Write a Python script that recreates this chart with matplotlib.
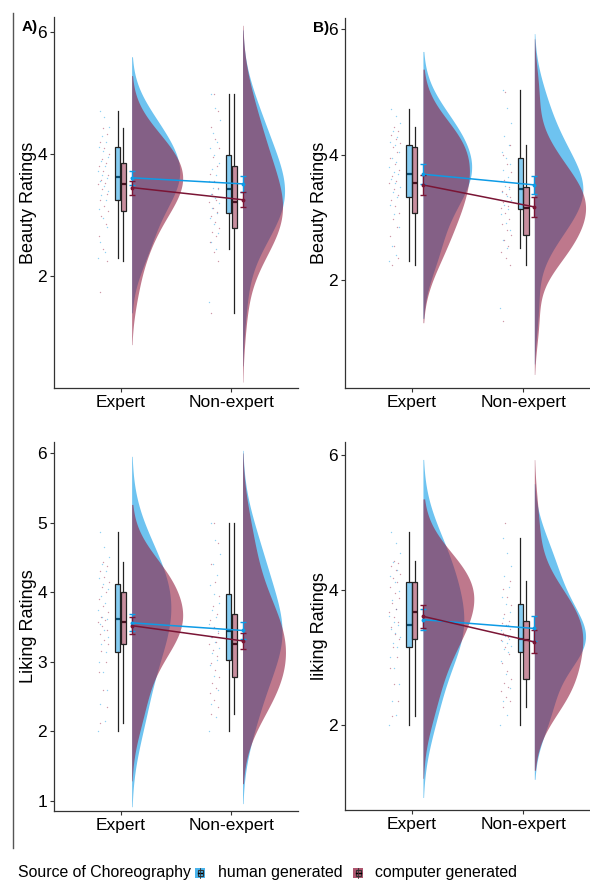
import numpy as np
import matplotlib
matplotlib.use("Agg")
import matplotlib.pyplot as plt
from matplotlib.colors import to_rgba
from matplotlib.lines import Line2D
from matplotlib.patches import Rectangle

plt.rcParams['font.family'] = ['Liberation Sans', 'DejaVu Sans']

# ---------------------------------------------------------------------------
# data
# ---------------------------------------------------------------------------
groups = ['Expert', 'Non-expert']
sources = ['human generated', 'computer generated']
panel_tags = ['A)', 'B)', '', '']
y_titles = ['Beauty Ratings', 'Beauty Ratings', 'Liking Ratings', 'liking Ratings']
y_ticks = [[2, 4, 6], [2, 4, 6], [1, 2, 3, 4, 5, 6], [2, 4, 6]]
y_lims = [(0.16, 6.25), (0.29, 6.17), (0.86, 6.16), (0.74, 6.19)]

# individual ratings (dots) per panel: expert-human, expert-computer, nonexp-human, nonexp-computer
A_exp_h = [2.29, 2.40, 2.55, 2.80, 2.95, 3.10, 3.25, 3.32, 3.40, 3.48, 3.55, 3.60, 3.65, 3.72, 3.80, 3.88, 3.95, 4.05, 4.12, 4.20, 4.30, 4.45, 4.60, 4.70]
A_exp_c = [1.74, 2.25, 2.45, 2.65, 2.85, 2.98, 3.07, 3.15, 3.25, 3.35, 3.42, 3.50, 3.52, 3.58, 3.65, 3.72, 3.80, 3.86, 3.92, 4.00, 4.10, 4.20, 4.32, 4.42]
A_non_h = [1.58, 2.44, 2.55, 2.70, 2.85, 2.95, 3.03, 3.12, 3.20, 3.28, 3.35, 3.43, 3.45, 3.55, 3.65, 3.75, 3.85, 3.99, 4.10, 4.20, 4.35, 4.55, 4.75, 4.98]
A_non_c = [1.39, 2.25, 2.40, 2.55, 2.65, 2.72, 2.78, 2.88, 2.98, 3.05, 3.12, 3.21, 3.25, 3.35, 3.45, 3.55, 3.68, 3.81, 3.95, 4.10, 4.25, 4.45, 4.70, 4.98]

B_exp_h = [2.31, 2.40, 2.55, 2.85, 3.05, 3.20, 3.32, 3.40, 3.48, 3.55, 3.62, 3.70, 3.72, 3.80, 3.88, 3.95, 4.05, 4.15, 4.20, 4.28, 4.38, 4.50, 4.62, 4.73]
B_exp_c = [2.25, 2.35, 2.55, 2.70, 2.85, 2.98, 3.07, 3.18, 3.28, 3.36, 3.45, 3.55, 3.58, 3.66, 3.75, 3.85, 3.95, 4.05, 4.12, 4.18, 4.25, 4.32, 4.38, 4.44]
B_non_h = [1.57, 2.52, 2.65, 2.80, 2.92, 3.05, 3.14, 3.20, 3.28, 3.35, 3.40, 3.46, 3.50, 3.58, 3.65, 3.75, 3.85, 3.95, 4.05, 4.15, 4.30, 4.50, 4.75, 5.03]
B_non_c = [1.35, 2.25, 2.35, 2.45, 2.55, 2.65, 2.72, 2.80, 2.90, 2.98, 3.08, 3.16, 3.18, 3.25, 3.32, 3.38, 3.42, 3.48, 3.60, 3.72, 3.85, 4.00, 4.16, 5.00]

C_exp_h = [2.00, 2.15, 2.40, 2.60, 2.85, 3.00, 3.14, 3.25, 3.35, 3.45, 3.55, 3.62, 3.65, 3.75, 3.85, 3.95, 4.05, 4.12, 4.20, 4.30, 4.40, 4.50, 4.65, 4.87]
C_exp_c = [2.12, 2.35, 2.60, 2.85, 3.00, 3.15, 3.25, 3.32, 3.40, 3.45, 3.52, 3.57, 3.60, 3.65, 3.72, 3.80, 3.90, 4.00, 4.08, 4.15, 4.22, 4.30, 4.38, 4.43]
C_non_h = [2.00, 2.20, 2.40, 2.60, 2.80, 2.95, 3.03, 3.12, 3.20, 3.28, 3.36, 3.44, 3.48, 3.55, 3.65, 3.75, 3.85, 3.97, 4.10, 4.25, 4.40, 4.55, 4.75, 5.00]
C_non_c = [2.25, 2.35, 2.45, 2.55, 2.62, 2.70, 2.78, 2.88, 2.98, 3.08, 3.17, 3.25, 3.28, 3.35, 3.42, 3.50, 3.60, 3.69, 3.80, 3.95, 4.15, 4.40, 4.70, 5.00]

D_exp_h = [2.00, 2.15, 2.35, 2.60, 2.85, 3.00, 3.15, 3.22, 3.30, 3.36, 3.42, 3.48, 3.52, 3.62, 3.72, 3.85, 3.98, 4.12, 4.20, 4.30, 4.42, 4.55, 4.70, 4.86]
D_exp_c = [2.13, 2.35, 2.60, 2.85, 3.00, 3.15, 3.27, 3.35, 3.45, 3.52, 3.60, 3.68, 3.72, 3.80, 3.88, 3.95, 4.05, 4.12, 4.18, 4.24, 4.30, 4.35, 4.40, 4.43]
D_non_h = [2.00, 2.15, 2.35, 2.55, 2.75, 2.95, 3.08, 3.12, 3.17, 3.21, 3.25, 3.28, 3.32, 3.40, 3.48, 3.58, 3.68, 3.79, 3.90, 4.05, 4.20, 4.35, 4.55, 4.77]
D_non_c = [2.26, 2.35, 2.42, 2.50, 2.56, 2.62, 2.68, 2.80, 2.92, 3.05, 3.15, 3.26, 3.30, 3.36, 3.42, 3.48, 3.51, 3.54, 3.65, 3.78, 3.90, 4.02, 4.14, 5.00]

ratings = [[A_exp_h, A_exp_c, A_non_h, A_non_c],
           [B_exp_h, B_exp_c, B_non_h, B_non_c],
           [C_exp_h, C_exp_c, C_non_h, C_non_c],
           [D_exp_h, D_exp_c, D_non_h, D_non_c]]

# box stats [whisker low, q1, median, q3, whisker high]
boxes = [[[2.29, 3.25, 3.63, 4.12, 4.70], [2.25, 3.07, 3.50, 3.86, 4.42],
          [2.44, 3.03, 3.43, 3.99, 4.98], [1.39, 2.78, 3.21, 3.81, 4.98]],
         [[2.31, 3.32, 3.70, 4.15, 4.73], [2.25, 3.07, 3.55, 4.12, 4.44],
          [2.52, 3.14, 3.46, 3.95, 5.03], [2.25, 2.72, 3.16, 3.48, 4.16]],
         [[2.00, 3.14, 3.62, 4.12, 4.87], [2.12, 3.25, 3.57, 4.00, 4.43],
          [2.00, 3.03, 3.44, 3.97, 5.00], [2.25, 2.78, 3.25, 3.69, 5.00]],
         [[2.00, 3.15, 3.48, 4.12, 4.86], [2.13, 3.27, 3.68, 4.12, 4.43],
          [2.00, 3.08, 3.28, 3.79, 4.77], [2.26, 2.68, 3.26, 3.54, 4.14]]]

# means and standard errors: [expert, non-expert]
means_h = [[3.61, 3.51], [3.69, 3.52], [3.56, 3.45], [3.56, 3.43]]
means_c = [[3.45, 3.25], [3.52, 3.17], [3.52, 3.30], [3.61, 3.23]]
se_h = [[0.115, 0.135], [0.16, 0.145], [0.12, 0.12], [0.16, 0.18]]
se_c = [[0.115, 0.12], [0.155, 0.16], [0.12, 0.12], [0.17, 0.17]]

col_h = '#0D9BE6'
col_c = '#931E3F'
col_c_line = '#7A1535'

# ---------------------------------------------------------------------------
def nrd0(v):
    v = np.asarray(v)
    sd = np.std(v, ddof=1)
    iqr = np.percentile(v, 75) - np.percentile(v, 25)
    return 0.9 * min(sd, iqr / 1.34) * len(v) ** -0.2


def kde(v, adjust=1.4, cut=2.1):
    v = np.asarray(v)
    bw = nrd0(v) * adjust
    g = np.linspace(v.min() - cut * bw, v.max() + cut * bw, 400)
    d = np.exp(-0.5 * ((g[:, None] - v[None, :]) / bw) ** 2).sum(axis=1)
    d = d / (len(v) * bw * np.sqrt(2 * np.pi))
    return g, d


fig = plt.figure(figsize=(5.9, 8.85), dpi=100)

W, H = 590.0, 885.0
# axes rectangles in pixels: left, top, right, bottom
rects = [(54, 16.75, 298, 388.2), (345, 18.3, 590, 388),
         (54, 441.9, 298, 810.7), (345, 442.2, 590, 810)]

for p in range(4):
    l, t, r, b = rects[p]
    ax = fig.add_axes([l / W, 1 - b / H, (r - l) / W, (b - t) / H])
    ax.set_xlim(0.4, 2.6)
    ax.set_ylim(*y_lims[p])

    # half violins, area scaled within panel
    dens = [kde(v) for v in ratings[p]]
    dmax = max(d.max() for g, d in dens)
    sc = 0.46 / dmax
    for k in range(4):
        gi = k // 2
        col = col_h if k % 2 == 0 else col_c
        g, d = dens[k]
        x0 = gi + 1 + 0.1
        ax.fill_betweenx(g, x0, x0 + d * sc, color=col, alpha=0.6, lw=0, zorder=1)

    # jittered rating dots
    for k in range(4):
        gi = k // 2
        col = col_h if k % 2 == 0 else col_c
        v = np.asarray(ratings[p][k])
        idx = np.arange(len(v)) + (k % 2) * 0.37
        jit = ((idx * 0.6180339) % 1.0) * 2 - 1
        xs = gi + 1 - 0.155 + 0.05 * jit
        ax.scatter(xs, v, s=1.0, color=col, alpha=0.45, lw=0, zorder=2)

    # boxplots
    stats = []
    pos = []
    fcs = []
    for k in range(4):
        gi = k // 2
        wlo, q1, med, q3, whi = boxes[p][k]
        stats.append(dict(whislo=wlo, q1=q1, med=med, q3=q3, whishi=whi, fliers=[]))
        pos.append(gi + 1 + (-0.026 if k % 2 == 0 else 0.026))
        fcs.append(to_rgba(col_h if k % 2 == 0 else col_c, 0.5))
    bp = ax.bxp(stats, positions=pos, widths=0.05, patch_artist=True,
                showcaps=False, showfliers=False, manage_ticks=False,
                boxprops=dict(edgecolor='#222222', linewidth=0.9),
                whiskerprops=dict(color='#222222', linewidth=0.9),
                medianprops=dict(color='black', linewidth=1.6))
    for patch, fc in zip(bp['boxes'], fcs):
        patch.set_facecolor(fc)
        patch.set_zorder(3)

    # means with error bars
    xm = np.array([1.1, 2.1])
    for mm, ss, col, lc in [(means_h[p], se_h[p], col_h, col_h),
                            (means_c[p], se_c[p], col_c, col_c_line)]:
        ax.plot(xm, mm, color=lc, lw=1.1, zorder=4)
        ax.errorbar(xm, mm, yerr=ss, fmt='o', ms=1.8, color=lc, ecolor=lc,
                    elinewidth=1.0, capsize=2, capthick=1.0, zorder=4)

    ax.set_xticks([1, 2])
    ax.set_xticklabels(groups)
    ax.set_yticks(y_ticks[p])
    ax.set_ylabel(y_titles[p], fontsize=13, labelpad=0.5)
    ax.tick_params(axis='both', labelsize=12.5, length=3, width=0.8,
                   colors='#333333', labelcolor='black', pad=2)
    for s in ['top', 'right']:
        ax.spines[s].set_visible(False)
    for s in ['left', 'bottom']:
        ax.spines[s].set_color('#333333')
        ax.spines[s].set_linewidth(0.9)

# panel tags
fig.text(22 / W, 1 - 27 / H, panel_tags[0], fontsize=11, fontweight='bold', va='center')
fig.text(313 / W, 1 - 28 / H, panel_tags[1], fontsize=11, fontweight='bold', va='center')

# left border line
fig.add_artist(Line2D([13 / W, 13 / W], [1 - 13 / H, 1 - 848 / H], color='#555555', lw=1))

# legend
ly = 1 - 873 / H
fig.text(18 / W, ly, 'Source of Choreography', fontsize=11.4, va='center')
for kx, tx, col in [(195, 218, col_h), (353, 375, col_c)]:
    fig.add_artist(Rectangle((kx / W, 1 - 878 / H), 10 / W, 10 / H,
                             facecolor=to_rgba(col, 0.75), edgecolor='none'))
    fig.add_artist(Rectangle(((kx + 2.5) / W, 1 - 876 / H), 5 / W, 6 / H,
                             facecolor='none', edgecolor='#333333', lw=0.8))
    fig.add_artist(Line2D([(kx + 2.5) / W, (kx + 7.5) / W], [1 - 873 / H] * 2,
                          color='black', lw=1))
    fig.add_artist(Line2D([(kx + 5) / W] * 2, [1 - 878 / H, 1 - 868 / H],
                          color='#333333', lw=0.6))
fig.text(218 / W, ly, sources[0], fontsize=11.4, va='center')
fig.text(375 / W, ly, sources[1], fontsize=11.4, va='center')

fig.savefig('out.png', dpi=100)
